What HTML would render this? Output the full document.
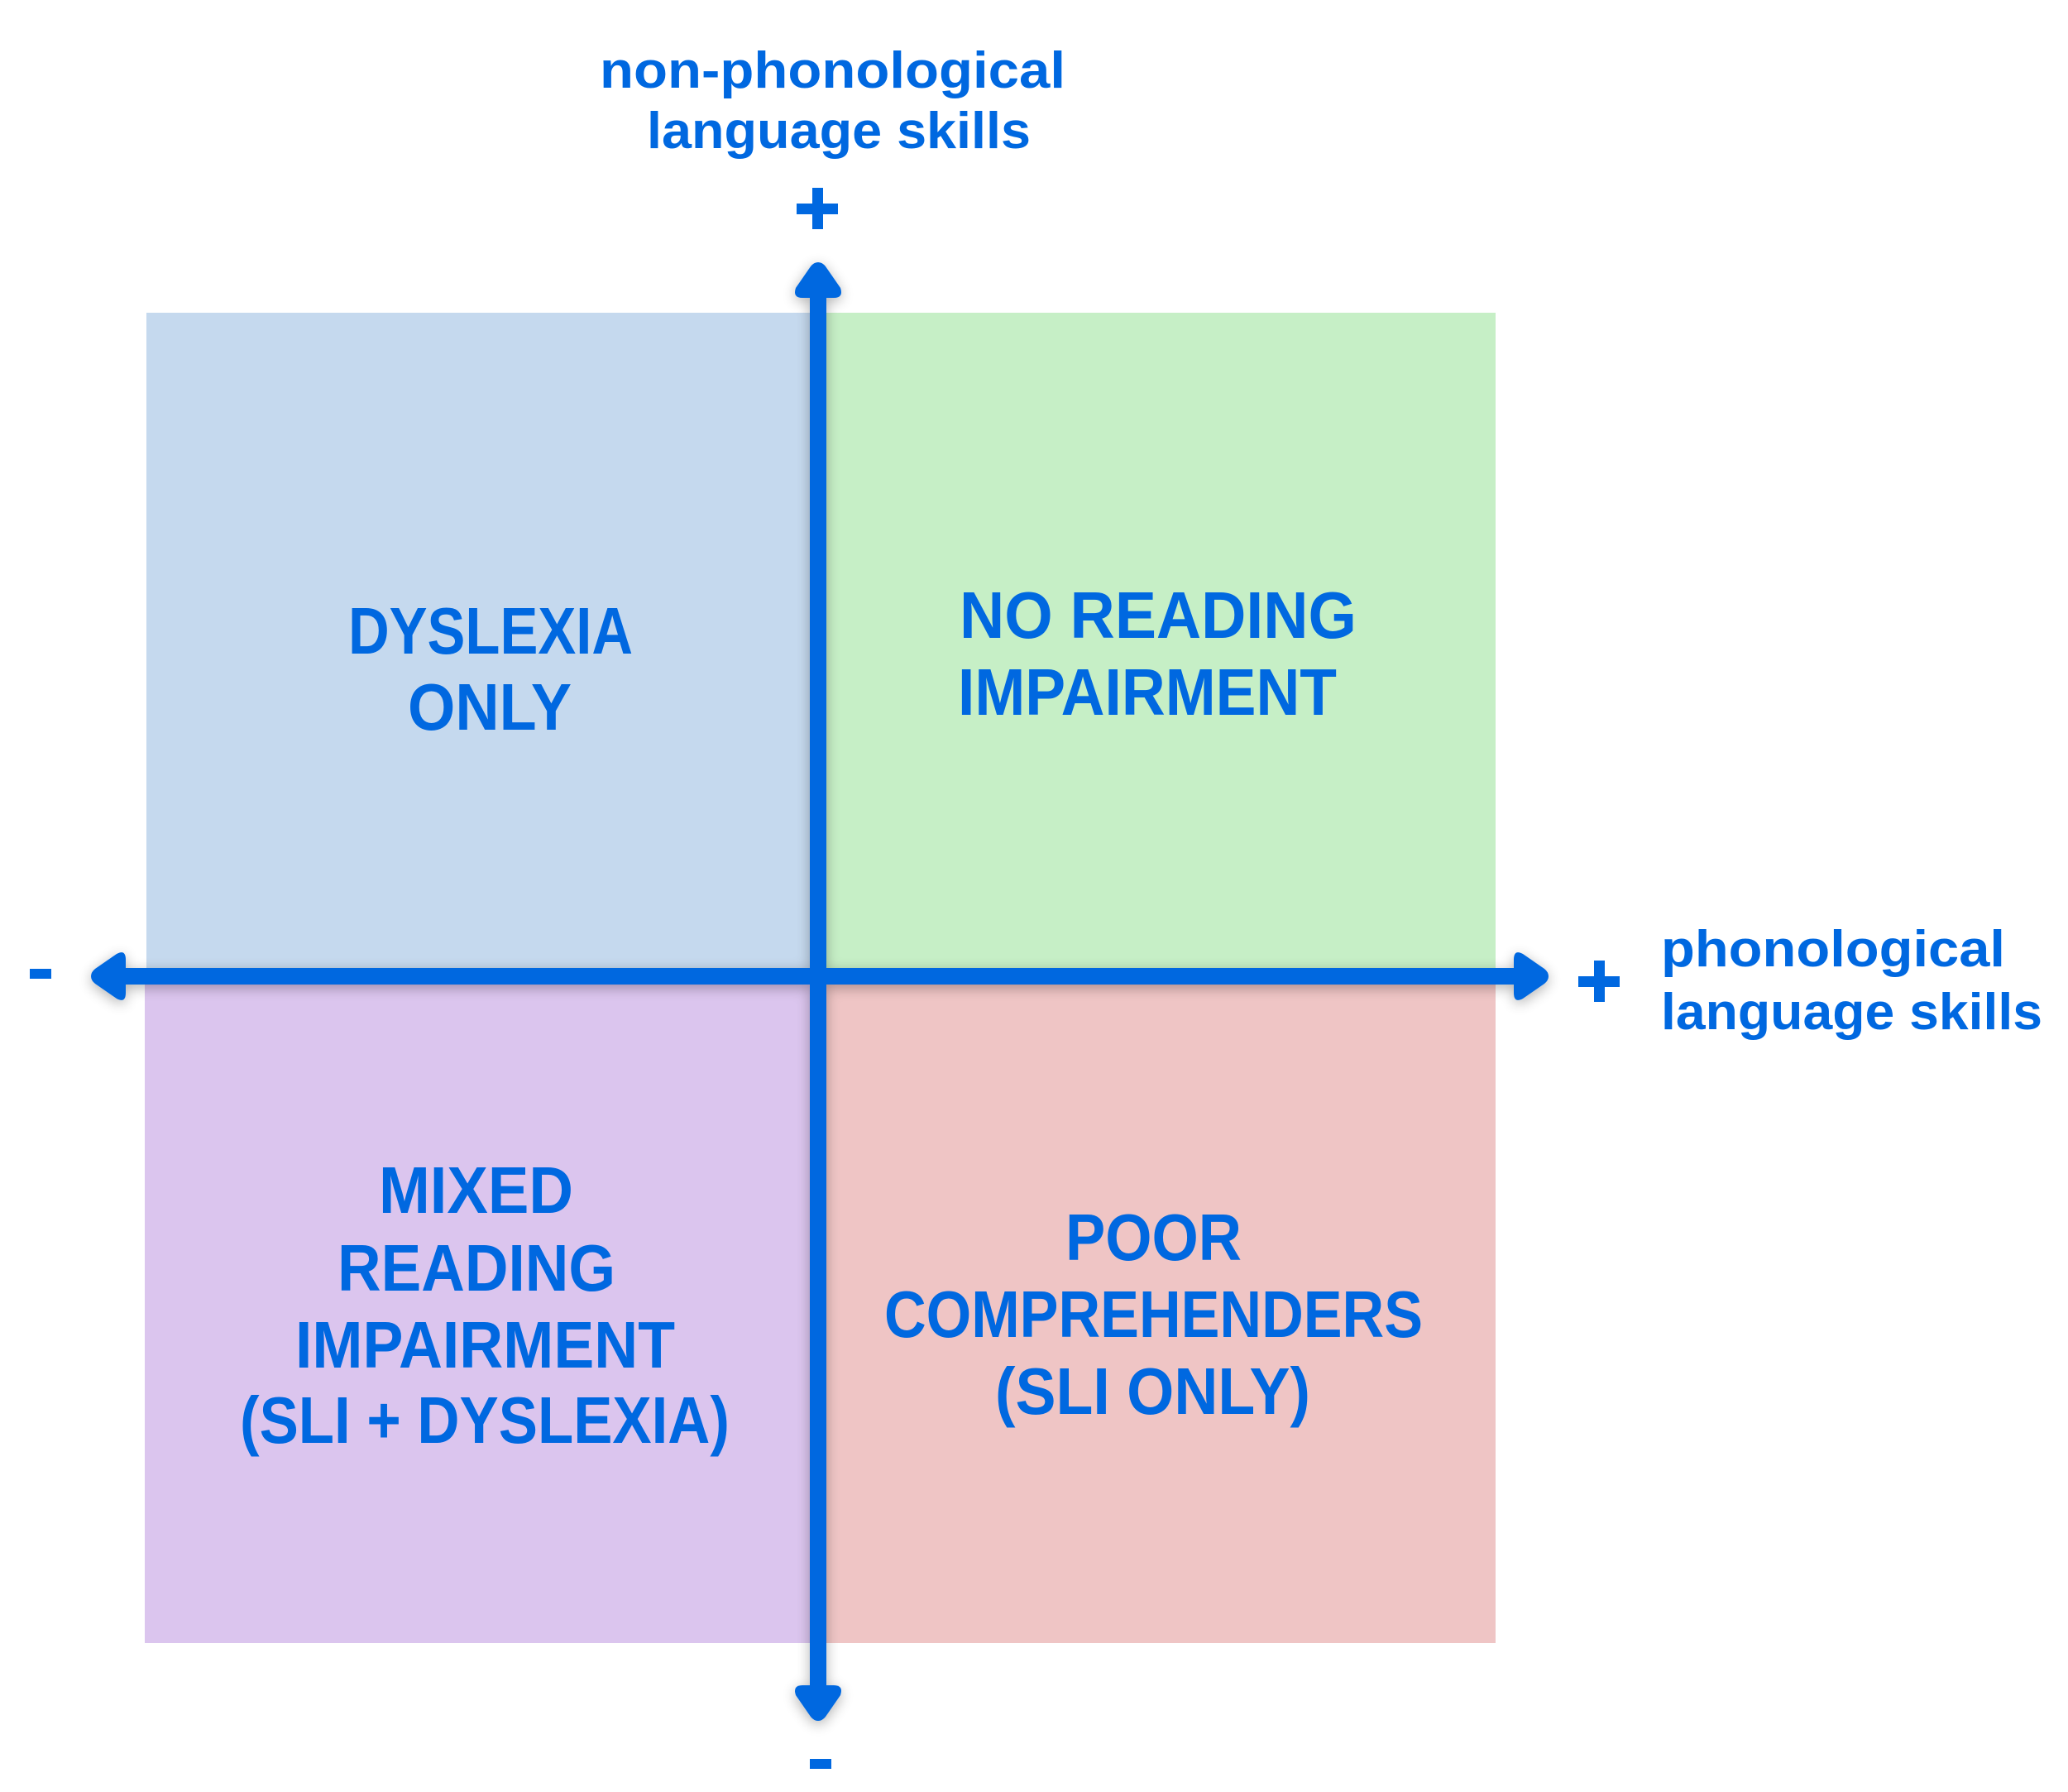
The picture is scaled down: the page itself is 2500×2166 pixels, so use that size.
<!DOCTYPE html>
<html><head><meta charset="utf-8"><style>html,body{margin:0;padding:0;background:#fff}svg{display:block}</style></head>
<body>
<svg width="2500" height="2166" viewBox="0 0 2500 2166" xmlns="http://www.w3.org/2000/svg">
<defs>
<filter id="sh" x="-20%" y="-20%" width="140%" height="140%"><feGaussianBlur in="SourceAlpha" stdDeviation="8"/><feOffset dx="0" dy="4"/><feComponentTransfer><feFuncA type="linear" slope="0.3"/></feComponentTransfer><feMerge><feMergeNode/><feMergeNode in="SourceGraphic"/></feMerge></filter>
</defs>
<rect x="177" y="378" width="812" height="804" fill="#C5D9EE"/>
<rect x="989" y="378" width="819" height="804" fill="#C6EFC6"/>
<rect x="175" y="1182" width="814" height="804" fill="#DBC5EE"/>
<rect x="989" y="1182" width="819" height="804" fill="#EFC5C5"/>
<g filter="url(#sh)" fill="#0068E0">
<rect x="979" y="355" width="20" height="1690"/>
<path d="M989 317 Q994 317 998 322 L1016 348 Q1020 360 1008 360 L970 360 Q958 360 962 348 L980 322 Q984 317 989 317Z"/>
<path d="M989 2080 Q994 2080 998 2075 L1016 2049 Q1020 2037 1008 2037 L970 2037 Q958 2037 962 2049 L980 2075 Q984 2080 989 2080Z"/>
<rect x="148" y="1170" width="1690" height="20"/>
<path d="M110 1180 Q110 1175 115 1171 L141 1153 Q152 1147 152 1160 L152 1200 Q152 1213 141 1207 L115 1189 Q110 1185 110 1180Z"/>
<path d="M1872 1180 Q1872 1175 1867 1171 L1841 1153 Q1830 1147 1830 1160 L1830 1200 Q1830 1213 1841 1207 L1867 1189 Q1872 1185 1872 1180Z"/>
</g>
<g fill="#0068E0">
<rect x="963" y="246" width="50" height="13"/><rect x="982" y="227" width="13" height="50"/>
<rect x="1908" y="1180" width="50" height="13"/><rect x="1927" y="1161" width="13" height="50"/>
<rect x="36" y="1171" width="26" height="12"/>
<rect x="979" y="2126" width="26" height="12"/>
</g>
<g font-family="Liberation Sans, sans-serif" font-weight="bold" fill="#0068E0" lengthAdjust="spacingAndGlyphs">
<g font-size="80">
<text x="421" y="790" textLength="344" lengthAdjust="spacingAndGlyphs">DYSLEXIA</text>
<text x="493" y="882" textLength="198" lengthAdjust="spacingAndGlyphs">ONLY</text>
<text x="1160" y="771" textLength="480" lengthAdjust="spacingAndGlyphs">NO READING</text>
<text x="1158" y="864" textLength="458" lengthAdjust="spacingAndGlyphs">IMPAIRMENT</text>
<text x="458" y="1466" textLength="235" lengthAdjust="spacingAndGlyphs">MIXED</text>
<text x="408" y="1560" textLength="336" lengthAdjust="spacingAndGlyphs">READING</text>
<text x="357" y="1653" textLength="459" lengthAdjust="spacingAndGlyphs">IMPAIRMENT</text>
<text x="290" y="1744" textLength="592" lengthAdjust="spacingAndGlyphs">(SLI + DYSLEXIA)</text>
<text x="1288" y="1523" textLength="213" lengthAdjust="spacingAndGlyphs">POOR</text>
<text x="1069" y="1616" textLength="651" lengthAdjust="spacingAndGlyphs">COMPREHENDERS</text>
<text x="1203" y="1709" textLength="381" lengthAdjust="spacingAndGlyphs">(SLI ONLY)</text>
</g>
<g font-size="62">
<text x="725" y="106" textLength="563" lengthAdjust="spacingAndGlyphs">non-phonological</text>
<text x="782" y="179" textLength="464" lengthAdjust="spacingAndGlyphs">language skills</text>
<text x="2008" y="1168" textLength="416" lengthAdjust="spacingAndGlyphs">phonological</text>
<text x="2008" y="1244" textLength="461" lengthAdjust="spacingAndGlyphs">language skills</text>
</g>
</g>
</svg>
</body></html>
